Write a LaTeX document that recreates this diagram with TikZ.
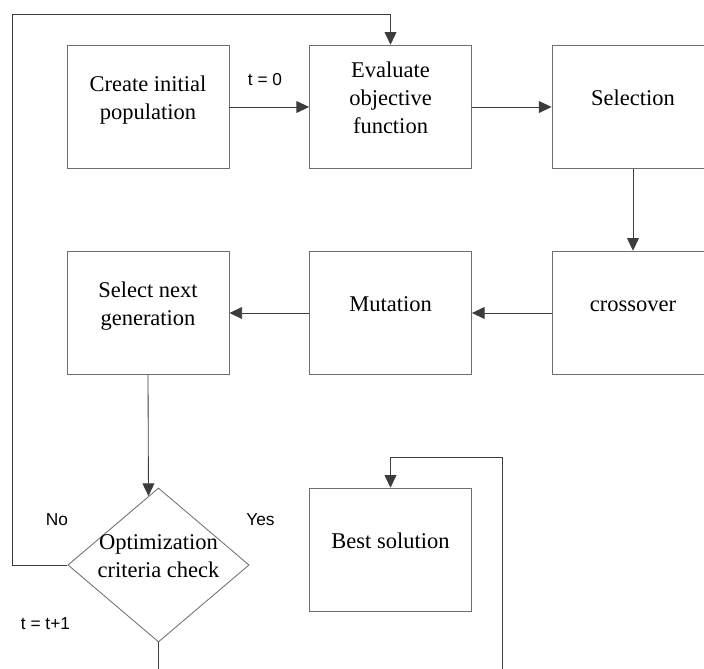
\documentclass[tikz,border=0pt]{standalone}
\usepackage{fontspec}
\setmainfont{Liberation Serif}
\newfontfamily\labelfont{Liberation Sans}
\definecolor{edgegray}{HTML}{6E6E6E}
\definecolor{linegray}{HTML}{3C3C3C}
\usetikzlibrary{calc, shapes.geometric, arrows.meta}
\newcommand{\boxlines}[1]{\raisebox{1pt}[0pt][0pt]{\begin{tabular}{@{}c@{}}#1\end{tabular}}}

\begin{document}
\begin{tikzpicture}[x=0.025cm, y=-0.025cm,
  stage/.style={draw=edgegray, line width=0.6pt, minimum width=4.05cm, minimum height=3.09cm, inner sep=0pt, font=\fontsize{16}{20}\selectfont},
  check/.style={stage, diamond, minimum width=4.53cm, minimum height=3.85cm},
  flow/.style={draw=linegray, line width=0.6pt, -{Triangle[length=9pt, width=8.4pt]}},
  lbl/.style={font=\labelfont\fontsize{12.3}{14}\selectfont, inner sep=0pt}]
  \useasboundingbox (0,0) rectangle (704,669);
  \clip (0,0) rectangle (704,669);

  % first row
  \node[stage] (init) at (148,107) {\boxlines{Create initial\\population}};
  \node[stage] (eval) at (390.5,107) {\boxlines{Evaluate\\objective\\function}};
  \node[stage] (sel) at (633,107) {\boxlines{Selection}};

  % second row
  \node[stage] (cross) at (633,313) {\boxlines{crossover}};
  \node[stage] (mut) at (390.5,313) {\boxlines{Mutation}};
  \node[stage] (nextgen) at (148,313) {\boxlines{Select next\\generation}};

  % check and result
  \node[check] (opt) at (158.5,565) {\boxlines{Optimization\\criteria check}};
  \node[stage] (best) at (390.5,550) {\boxlines{Best solution}};

  % main loop
  \draw[flow] (init) -- (eval);
  \draw[flow] (eval) -- (sel);
  \draw[flow] (sel) -- (cross);
  \draw[flow] (cross) -- (mut);
  \draw[flow] (mut) -- (nextgen);
  \draw[flow] (nextgen.south) -- ($(opt.north)!0.11!(opt.west)$);

  % No: back to the evaluation
  \coordinate (ltop) at (12,14);
  \draw[flow] (opt.west) -| (ltop) -| (eval.north);

  % Yes: out at the bottom and round to the best solution
  \coordinate (lbot) at (502,700);
  \coordinate (rtop) at (502,457);
  \draw[flow] (opt.south) |- (lbot) -- (rtop) -| (best.north);

  % labels
  \node[lbl] (tzero) at (265,80) {t = 0};
  \node[lbl] (no) at (57,520) {No};
  \node[lbl] (yes) at (260.5,520) {Yes};
  \node[lbl] (tnext) at (45.5,624) {t = t+1};
\end{tikzpicture}
\end{document}
